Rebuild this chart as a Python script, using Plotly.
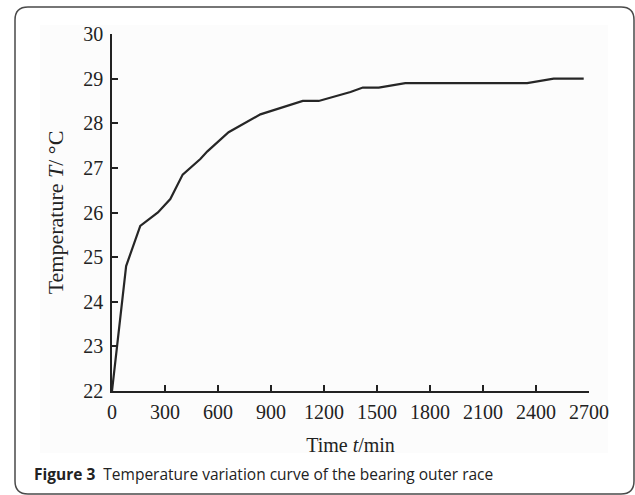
import plotly.graph_objects as go

time_min = [0, 80, 160, 260, 330, 400, 500, 540, 660, 840, 1080, 1170, 1350, 1420, 1510, 1660, 2350, 2500, 2670]
temperature = [22, 24.8, 25.7, 26.0, 26.3, 26.85, 27.2, 27.37, 27.8, 28.2, 28.5, 28.5, 28.7, 28.8, 28.8, 28.9, 28.9, 29.0, 29.0]
x_ticks = [0, 300, 600, 900, 1200, 1500, 1800, 2100, 2400, 2700]
y_ticks = [22, 23, 24, 25, 26, 27, 28, 29, 30]

W, H = 635, 495
L, R, T, B = 112, 46, 34, 104
PW, PH = W - L - R, H - T - B

def px(x):
    return (x - L) / PW

def py(y):
    return (H - B - y) / PH

serif = "Liberation Serif"

fig = go.Figure()
fig.add_trace(go.Scatter(x=time_min, y=temperature, mode="lines",
                         line=dict(color="#262626", width=2.2), showlegend=False))

# faint figure background
fig.add_shape(type="rect", xref="paper", yref="paper", x0=px(40), x1=px(608), y0=py(453), y1=py(25),
              fillcolor="#fcfcfc", line=dict(width=0), layer="below")
# outer rounded border
x0, y0, x1, y1, r = 15, 7, 634, 494, 13
rx, ry = r / PW, r / PH
path = (f"M {px(x0)+rx:.5f},{py(y0):.5f} L {px(x1)-rx:.5f},{py(y0):.5f} "
        f"Q {px(x1):.5f},{py(y0):.5f} {px(x1):.5f},{py(y0)-ry:.5f} "
        f"L {px(x1):.5f},{py(y1)+ry:.5f} Q {px(x1):.5f},{py(y1):.5f} {px(x1)-rx:.5f},{py(y1):.5f} "
        f"L {px(x0)+rx:.5f},{py(y1):.5f} Q {px(x0):.5f},{py(y1):.5f} {px(x0):.5f},{py(y1)+ry:.5f} "
        f"L {px(x0):.5f},{py(y0)-ry:.5f} Q {px(x0):.5f},{py(y0):.5f} {px(x0)+rx:.5f},{py(y0):.5f} Z")
fig.add_shape(type="path", path=path, xref="paper", yref="paper",
              line=dict(color="#4a4a4a", width=1.5), layer="above")

fig.update_xaxes(range=[0, 2700], tickvals=x_ticks, ticks="inside", ticklen=6, tickwidth=1.5,
                 tickcolor="#222", showline=True, linecolor="#222", linewidth=1.5,
                 showgrid=False, zeroline=False, ticklabelstandoff=2,
                 tickfont=dict(family=serif, size=20, color="#222"),
                 title=dict(text="Time <i>t</i>/min", font=dict(family=serif, size=20, color="#222"), standoff=16))
fig.update_yaxes(range=[22, 30], tickvals=y_ticks, ticks="inside", ticklen=6, tickwidth=1.5,
                 tickcolor="#222", showline=True, linecolor="#222", linewidth=1.5,
                 showgrid=False, zeroline=False, ticklabelstandoff=3,
                 tickfont=dict(family=serif, size=20, color="#222"),
                 title=dict(text="Temperature <i>T</i>/ °C", font=dict(family=serif, size=22, color="#222"), standoff=14))

fig.add_annotation(xref="paper", yref="paper", x=px(32), y=py(474), xanchor="left", yanchor="middle",
                   showarrow=False,
                   text="<b>Figure 3</b>  Temperature variation curve of the bearing outer race",
                   font=dict(family="Open Sans", size=15.5, color="#222"))

fig.update_layout(width=W, height=H, margin=dict(l=L, r=R, t=T, b=B),
                  paper_bgcolor="white", plot_bgcolor="rgba(0,0,0,0)")

fig.write_html("out.html", config={"displayModeBar": False},
               post_script="document.body.style.margin='0';document.body.style.overflow='hidden';")
